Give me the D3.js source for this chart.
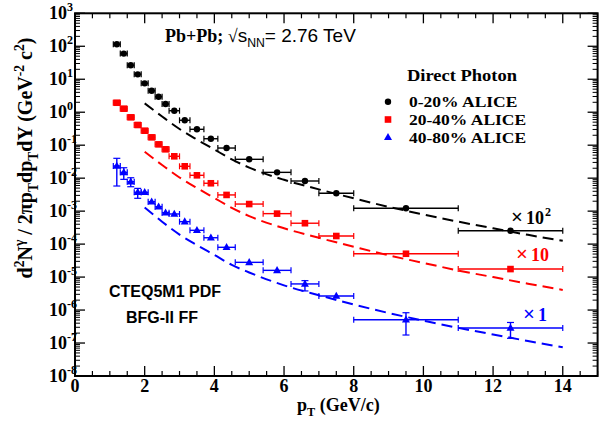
<!DOCTYPE html>
<html><head><meta charset="utf-8">
<script src="https://cdn.jsdelivr.net/npm/d3@7"></script>
<style>
body{margin:0;background:#fff}
text{font-family:"Liberation Serif","Times New Roman",serif;font-weight:bold}
</style>
</head><body>
<svg id="c" width="603" height="423"></svg>
<script>
// ---- data ----
const pT     = [1.2,1.4,1.6,1.8,2.0,2.2,2.4,2.6,2.85,3.15,3.5,3.9,4.35,5.0,5.8,6.6,7.5,9.5,12.5];
const binLo  = [1.1,1.3,1.5,1.7,1.9,2.1,2.3,2.5,2.7,3.0,3.3,3.7,4.1,4.6,5.4,6.2,7.0,8.0,11.0];
const binHi  = [1.3,1.5,1.7,1.9,2.1,2.3,2.5,2.7,3.0,3.3,3.7,4.1,4.6,5.4,6.2,7.0,8.0,11.0,14.0];
const c0_20  = [115,60,26.5,14.1,7.5,4.5,2.95,1.77,1.11,0.57,0.303,0.157,0.082,0.0373,0.0150,0.0082,0.00347,0.00122,0.000255];
const c20_40 = [1.94,1.28,0.70,0.41,0.275,0.173,0.106,0.075,0.046,0.0229,0.0122,0.0070,0.0031,0.00164,0.00084,0.00043,0.000176,0.000051,0.0000175];
const c40_80 = [0.0234,0.0150,0.0078,0.00372,0.00372,0.00193,0.00136,0.000895,0.00082,0.00048,0.000262,0.000156,0.000080,0.000028,0.000016,0.0000062,0.00000267,0.00000051,0.000000285];
const c40_80Hi = [0.040,0.0207,0.0103,0.0049,null,null,null,null,null,null,null,null,null,null,null,0.0000078,null,0.00000083,0.00000042];
const c40_80Lo = [0.00578,0.0092,0.0055,0.00245,null,null,null,null,null,null,null,null,null,null,null,0.0000038,null,0.000000175,0.000000139];

const thPT   = [2,2.5,3,3.5,4,4.5,5,6,7,8,9,10,11,12,13,14];
const th0_20 = [1.86,0.741,0.309,0.148,0.0741,0.0372,0.0209,0.00891,0.00457,0.00245,0.00135,0.000794,0.000479,0.000302,0.000191,0.000126];
const th20_40= [0.0631,0.0251,0.01047,0.00501,0.00251,0.00126,0.000708,0.000302,0.000155,0.0000832,0.0000457,0.0000269,0.0000158,0.0000100,0.00000631,0.00000407];
const th40_80= [0.00129,0.000479,0.000195,0.0000933,0.0000468,0.0000234,0.0000138,0.00000562,0.00000282,0.00000148,0.000000813,0.000000479,0.000000288,0.000000182,0.000000115,0.0000000741];

const xMajor = [0,2,4,6,8,10,12,14];
const yExp   = [-8,-7,-6,-5,-4,-3,-2,-1,0,1,2,3];
const legendLabels = ["0-20% ALICE","20-40% ALICE","40-80% ALICE"];
const colors = ["#000000","#ff0000","#0000ff"];
const scaleLabels = [["×","10","2"],["×","10",null],["×","1",null]];

// ---- scales ----
const svg = d3.select("#c");
const x = d3.scaleLinear().domain([0,15]).range([75,597.6]);
const y = d3.scaleLog().domain([1e-8,1e3]).range([376,13.3]);

function rich(sel, parts, S){
  let off=0;
  parts.forEach(p=>{
    const [s,t,st]=p;
    const target = t==='sup'? -0.42*S : t==='sub'? 0.3*S : 0;
    const ts = sel.append('tspan').text(s).attr('dy', target-off);
    if(t!=='n') ts.attr('font-size', 0.68*S);
    if(st) for(const k in st) ts.attr(k, st[k]);
    off = target;
  });
}

// ---- frame & ticks ----
const g = svg.append('g');
const x0=x(0), x1=x(15), yT=y(1e3), yB=y(1e-8);
const xMinor = d3.range(0,15.01,0.5).filter(v=>v%2!==0);
g.selectAll('.xM').data(xMajor).join('line')
  .attr('x1',d=>x(d)).attr('x2',d=>x(d)).attr('y1',yB).attr('y2',yB-10).attr('stroke','#000').attr('stroke-width',1.3);
g.selectAll('.xMt').data(xMajor).join('line')
  .attr('x1',d=>x(d)).attr('x2',d=>x(d)).attr('y1',yT).attr('y2',yT+10).attr('stroke','#000').attr('stroke-width',1.3);
g.selectAll('.xm').data(xMinor).join('line')
  .attr('x1',d=>x(d)).attr('x2',d=>x(d)).attr('y1',yB).attr('y2',yB-5).attr('stroke','#000').attr('stroke-width',1.2);
g.selectAll('.xmt').data(xMinor).join('line')
  .attr('x1',d=>x(d)).attr('x2',d=>x(d)).attr('y1',yT).attr('y2',yT+5).attr('stroke','#000').attr('stroke-width',1.2);
const yMaj = yExp.map(e=>Math.pow(10,e));
const yMin = [];
yExp.slice(0,-1).forEach(e=>{ for(let k=2;k<=9;k++) yMin.push(k*Math.pow(10,e)); });
[[x0,1],[x1,-1]].forEach(([xx,s])=>{
  g.append('g').selectAll('line').data(yMaj).join('line')
    .attr('x1',xx).attr('x2',xx+s*10).attr('y1',d=>y(d)).attr('y2',d=>y(d)).attr('stroke','#000').attr('stroke-width',1.3);
  g.append('g').selectAll('line').data(yMin).join('line')
    .attr('x1',xx).attr('x2',xx+s*5).attr('y1',d=>y(d)).attr('y2',d=>y(d)).attr('stroke','#000').attr('stroke-width',1);
});
g.append('rect').attr('x',x0).attr('y',yT).attr('width',x1-x0).attr('height',yB-yT)
  .attr('fill','none').attr('stroke','#000').attr('stroke-width',2);

// tick labels
g.selectAll('.xl').data(xMajor).join('text')
  .attr('x',d=>x(d)).attr('y',392).attr('text-anchor','middle').attr('font-size',18).text(d=>d);
yExp.forEach(e=>{
  const t = g.append('text').attr('x',49).attr('y',y(Math.pow(10,e))+6).attr('font-size',18);
  t.append('tspan').text('10');
  t.append('tspan').text(e).attr('font-size',12).attr('dy',-8);
});

// axis titles
const xt = g.append('text').attr('x',297).attr('y',411).attr('font-size',18);
rich(xt,[['p','n'],['T','sub'],[' (GeV/c)','n']],18);
const yt = g.append('text').attr('transform','translate(32,158) rotate(-90)').attr('text-anchor','middle').attr('font-size',20);
rich(yt,[['d','n'],['2','sup'],['N','n'],['γ','sup'],[' / 2π','n'],['p','n'],['T','sub'],['dp','n'],['T','sub'],['dY (GeV','n'],['-2','sup'],[' c','n'],['2','sup'],[')','n']],20);

// ---- theory curves ----
const line = d3.line().x(d=>x(d[0])).y(d=>y(d[1])).curve(d3.curveMonotoneX);
[th0_20,th20_40,th40_80].forEach((arr,i)=>{
  g.append('path').attr('d',line(thPT.map((p,j)=>[p,arr[j]])))
   .attr('fill','none').attr('stroke',colors[i]).attr('stroke-width',2).attr('stroke-dasharray','11,6');
});

// ---- data points ----
const series=[c0_20,c20_40,c40_80];
series.forEach((arr,i)=>{
  const col=colors[i];
  const sg=g.append('g');
  arr.forEach((v,j)=>{
    const cx=x(pT[j]), cy=y(v);
    sg.append('line').attr('x1',x(binLo[j])).attr('x2',x(binHi[j])).attr('y1',cy).attr('y2',cy).attr('stroke',col).attr('stroke-width',1.4);
    [binLo[j],binHi[j]].forEach(b=>sg.append('line').attr('x1',x(b)).attr('x2',x(b)).attr('y1',cy-3).attr('y2',cy+3).attr('stroke',col).attr('stroke-width',1.2));
    if(i===2 && c40_80Hi[j]!==null){
      const yh=y(c40_80Hi[j]), yl=y(c40_80Lo[j]);
      sg.append('line').attr('x1',cx).attr('x2',cx).attr('y1',yh).attr('y2',yl).attr('stroke',col).attr('stroke-width',1.4);
      [yh,yl].forEach(yy=>sg.append('line').attr('x1',cx-3.5).attr('x2',cx+3.5).attr('y1',yy).attr('y2',yy).attr('stroke',col).attr('stroke-width',1.2));
    }
  });
});
function marker(sel,i,cx,cy){
  if(i===0) sel.append('circle').attr('cx',cx).attr('cy',cy).attr('r',3.2).attr('fill',colors[0]);
  else if(i===1) sel.append('rect').attr('x',cx-3.3).attr('y',cy-3.3).attr('width',6.6).attr('height',6.6).attr('fill',colors[1]);
  else sel.append('path').attr('d',`M${cx},${cy-4.3}L${cx+4},${cy+2.8}L${cx-4},${cy+2.8}Z`).attr('fill',colors[2]);
}
series.forEach((arr,i)=>{ arr.forEach((v,j)=>marker(g,i,x(pT[j]),y(v))); });

// ---- texts ----
const ttl = g.append('text').attr('x',165).attr('y',42).attr('font-size',18);
const sans = 'Liberation Sans, Arial, sans-serif';
rich(ttl,[['Pb+Pb; ','n'],['√','n',{'font-weight':'normal'}],['s','n',{'font-family':sans,'font-weight':'normal','font-size':19}],
  ['NN','sub',{'font-family':sans,'font-weight':'normal'}],
  ['= 2.76 TeV','n',{'font-family':sans,'font-weight':'normal','font-size':19}]],18);

g.append('text').attr('x',407).attr('y',81).attr('font-size',17)
  .attr('textLength',110).attr('lengthAdjust','spacingAndGlyphs').text('Direct Photon');
legendLabels.forEach((l,i)=>{
  const yy=101.7+i*17.8;
  marker(g,i,388,yy);
  const t = g.append('text').attr('x',409).attr('y',yy+5.5).attr('font-size',15).text(l);
  const w = t.node().getComputedTextLength();
  t.attr('textLength', w*17.5/15).attr('lengthAdjust','spacingAndGlyphs');
});

// scale-factor annotations (separate text pieces, no overlap)
const sl=[[512,224],[517,261],[524,321]];
scaleLabels.forEach((s,i)=>{
  const [ax,ay]=sl[i];
  g.append('text').attr('x',ax-1).attr('y',ay).attr('font-size',21).attr('font-weight','normal').attr('fill',colors[i]).text(s[0]);
  g.append('text').attr('x',ax+14).attr('y',ay).attr('font-size',18).attr('fill',colors[i]).text(s[1]);
  if(s[2]) g.append('text').attr('x',ax+33).attr('y',ay-8).attr('font-size',12).attr('fill',colors[i]).text(s[2]);
});

g.append('text').attr('x',165).attr('y',297).attr('text-anchor','middle').attr('font-size',16)
  .style('font-family',sans).text('CTEQ5M1 PDF');
g.append('text').attr('x',162).attr('y',322.5).attr('text-anchor','middle').attr('font-size',16)
  .style('font-family',sans).text('BFG-II FF');
</script>
</body></html>
